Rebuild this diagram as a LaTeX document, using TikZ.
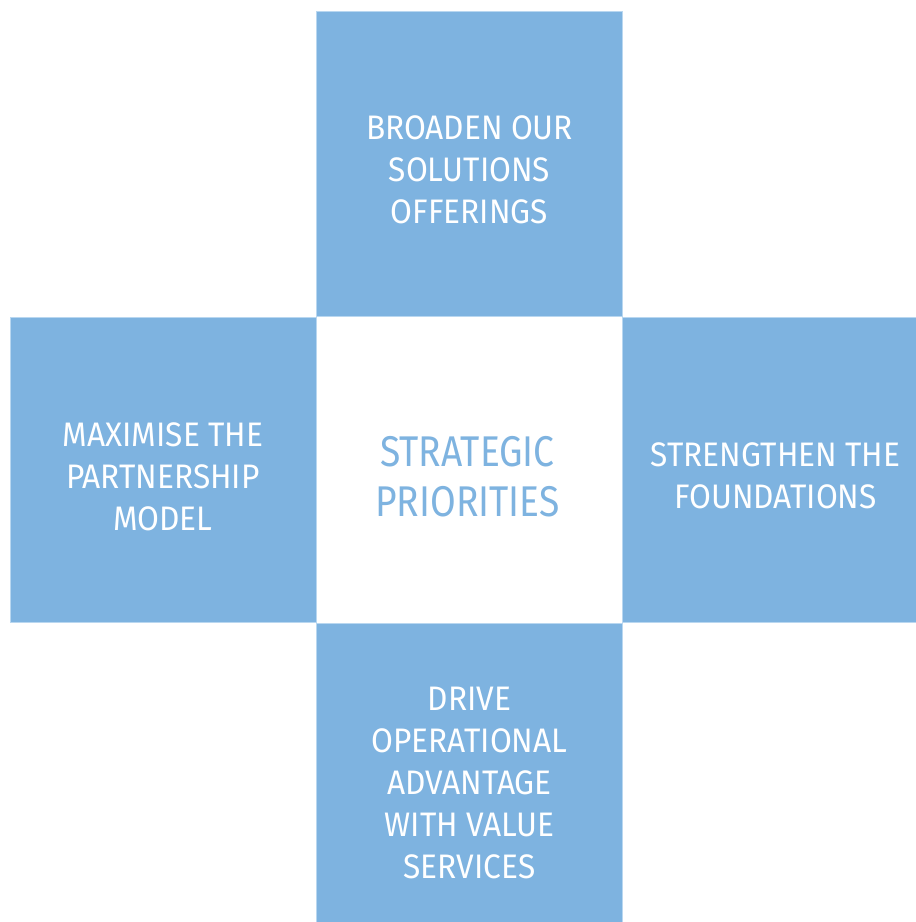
\documentclass[tikz,border=0pt]{standalone}
\usepackage{fontspec}
\setmainfont{Fira Sans}[FakeStretch=0.93]
\newfontfamily\centrefont{Fira Sans}[FakeStretch=0.865]
\definecolor{tile}{HTML}{7EB3E0}
\definecolor{tileedge}{HTML}{B9D7F0}
\begin{document}
\begin{tikzpicture}[x=1pt,y=-1pt,
  tilebox/.style={fill=tile,draw=tileedge,line width=0.8pt},
  tiletext/.style={text=white,align=center,inner sep=0pt,font=\fontsize{34}{42}\selectfont},
  centretext/.style={text=tile,align=center,inner sep=0pt,font=\centrefont\fontsize{43}{50}\selectfont}]
\useasboundingbox (0,0) rectangle (916,922);
\begin{scope}
\clip (0,0) rectangle (916,922);
\fill[white] (0,0) rectangle (916,922);
\path[tilebox] (316.5,11) rectangle (622.7,316.7);
\path[tilebox] (10,317) rectangle (316.5,622.7);
\path[tilebox] (622.7,317) rectangle (929,622.7);
\path[tilebox] (316.5,623.3) rectangle (622.7,929);
\end{scope}
\node[tiletext] (top) at (469.5,170) {BROADEN OUR\\SOLUTIONS\\OFFERINGS};
\node[tiletext] (left) at (163,476.5) {MAXIMISE THE\\PARTNERSHIP\\MODEL};
\node[tiletext] (right) at (775.5,476) {STRENGTHEN THE\\FOUNDATIONS};
\node[tiletext] (bottom) at (469.5,783) {DRIVE\\OPERATIONAL\\ADVANTAGE\\WITH VALUE\\SERVICES};
\node[centretext] (centre) at (467.5,476.5) {STRATEGIC\\PRIORITIES};
\end{tikzpicture}
\end{document}
